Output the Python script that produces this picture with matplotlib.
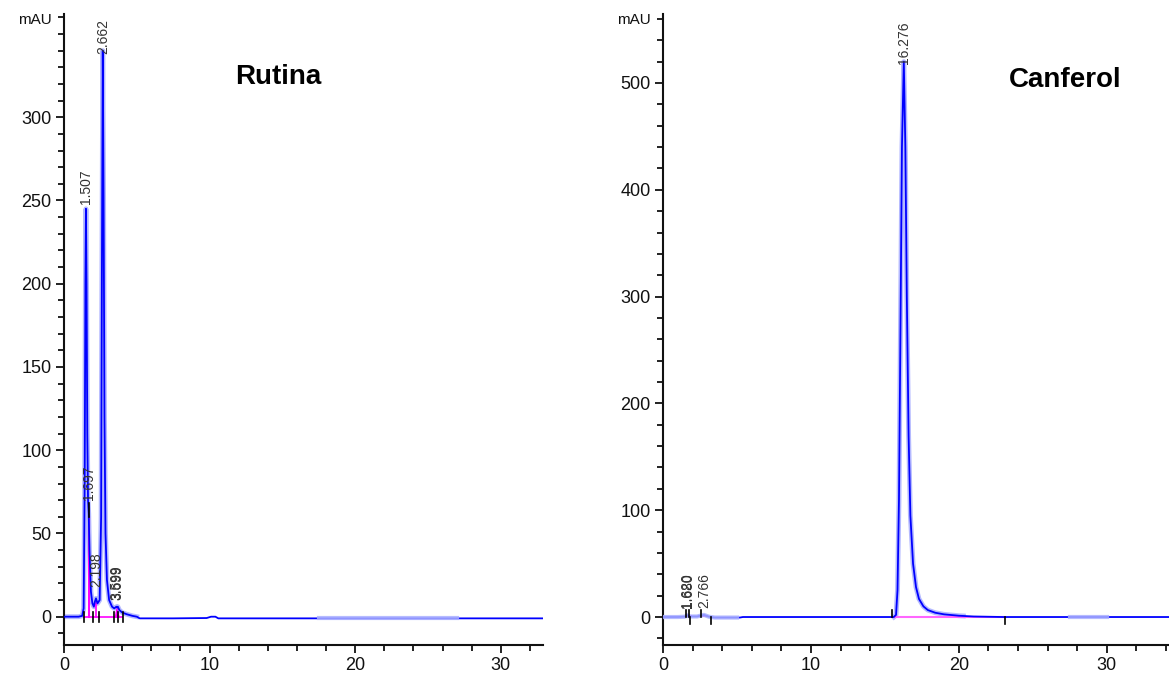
import numpy as np
import matplotlib
matplotlib.use('Agg')
import matplotlib.pyplot as plt
from matplotlib.ticker import MultipleLocator, FixedLocator

plt.rcParams['font.family'] = ['Liberation Sans', 'DejaVu Sans']

# ---- Rutina chromatogram (min, mAU)
rut_t = [0, 1.0, 1.25, 1.35, 1.42, 1.47, 1.507, 1.55, 1.6, 1.65, 1.697, 1.75, 1.85,
         1.95, 2.05, 2.12, 2.198, 2.3, 2.45, 2.55, 2.6, 2.662, 2.72, 2.78, 2.85,
         2.95, 3.1, 3.3, 3.45, 3.599, 3.65, 3.699, 3.8, 4.0, 4.3, 4.7, 5.0, 5.2,
         7.5, 9.8, 10.1, 10.4, 10.6, 17.5, 27.0, 33.0]
rut_y = [0, 0, 0.5, 5, 80, 200, 245, 200, 110, 70, 62, 40, 15,
         8, 6, 9, 11, 8, 10, 60, 200, 340, 250, 120, 50,
         22, 10, 6, 5, 6, 5.5, 6, 4, 2.5, 1.5, 0.5, 0, -1,
         -1, -0.8, 0, 0, -1, -1, -1, -1]
rut_peaks = ['1.507', '1.697', '2.198', '2.662', '3.599', '3.699']
rut_peak_t = [1.507, 1.697, 2.198, 2.662, 3.599, 3.699]
rut_label_y = [248, 70, 18, 338, 10, 10]
rut_halo_under = [(0.0, 5.0)]
rut_halo_over = [(17.5, 27.0)]
rut_marks = [1.37, 2.0, 2.4, 3.44, 3.7, 4.05]
rut_yticks = [0, 50, 100, 150, 200, 250, 300]

# ---- Canferol chromatogram
can_t = [0, 1.0, 1.5, 1.62, 1.68, 1.8, 2.3, 2.766, 3.1, 3.5, 5.0, 5.2, 5.4,
         15.6, 15.75, 15.85, 15.95, 16.05, 16.15, 16.276, 16.38, 16.48, 16.6,
         16.72, 16.9, 17.1, 17.3, 17.6, 17.9, 18.4, 19.0, 20.0, 20.3, 21.0, 23.0,
         27.5, 30.0, 34.5]
can_y = [0, 0, 0.3, 1.5, 1.5, 0.5, 0.5, 2, 0.3, -0.5, -0.5, -0.5, 0,
         0, 2, 25, 110, 270, 440, 520, 440, 300, 170,
         95, 50, 28, 17, 10, 6.5, 4, 2.5, 1.2, 1.0, 0.5, 0,
         0, 0, 0]
can_peaks = ['1.620', '1.680', '2.766', '16.276']
can_peak_t = [1.62, 1.68, 2.766, 16.276]
can_label_y = [8, 8, 8, 518]
can_halo_under = [(15.4, 20.3)]
can_halo_over = [(0.0, 5.0), (27.5, 30.0)]
can_marks_up = [1.55, 1.75, 2.55, 15.5]
can_marks_dn = [1.85, 3.25, 23.1]
can_yticks = [0, 100, 200, 300, 400, 500]

fig = plt.figure(figsize=(11.69, 6.75), dpi=100)
ax1 = fig.add_axes([64 / 1169, 30 / 675, 479 / 1169, 631 / 675])
ax2 = fig.add_axes([663 / 1169, 30 / 675, 506 / 1169, 631 / 675])


def draw(ax, t, y, h_under, h_over, names, pt, ly, yticks, ymin_, xmax, ylim):
    t = np.array(t)
    y = np.array(y, dtype=float)
    for a, b in h_under:
        yy = np.where((t >= a) & (t <= b), y, np.nan)
        ax.plot(t, yy, color='#b4b9ff', lw=3.5, zorder=2)
    ax.plot(t, y, color='#0000ff', lw=1.3, zorder=3)
    for a, b in h_over:
        yy = np.where((t >= a) & (t <= b), y, np.nan)
        ax.plot(t, yy, color='#a9afff', lw=3.0, alpha=0.85, zorder=4)
    for n, x0, y0 in zip(names, pt, ly):
        ax.text(x0, y0, n, rotation=90, ha='center', va='bottom',
                fontsize=10, color='#333333', zorder=6)
    ax.set_xlim(0, xmax)
    ax.set_ylim(*ylim)
    for s in ['top', 'right']:
        ax.spines[s].set_visible(False)
    for s in ['left', 'bottom']:
        ax.spines[s].set_linewidth(1.5)
        ax.spines[s].set_color('#111111')
    ax.xaxis.set_major_locator(MultipleLocator(10))
    ax.xaxis.set_minor_locator(MultipleLocator(2))
    ax.yaxis.set_major_locator(FixedLocator(yticks))
    ax.yaxis.set_minor_locator(MultipleLocator(ymin_))
    ax.tick_params(which='major', length=6, width=1.3, labelsize=13,
                   colors='#111111', pad=3)
    ax.tick_params(which='minor', length=4.5, width=1.3, colors='#111111')
    ax.text(-0.025, 0.99, 'mAU', transform=ax.transAxes, ha='right',
            va='center', fontsize=11, color='#111111')


draw(ax1, rut_t, rut_y, rut_halo_under, rut_halo_over, rut_peaks, rut_peak_t,
     rut_label_y, rut_yticks, 10, 32.9, (-17, 362))
draw(ax2, can_t, can_y, can_halo_under, can_halo_over, can_peaks, can_peak_t,
     can_label_y, can_yticks, 20, 34.2, (-26.2, 564.6))

# integration baselines / drop lines
ax1.plot([1.4, 4.0], [0, 0], color='#ff00ff', lw=1.2, zorder=2)
ax1.plot([1.72, 1.72], [0, 60], color='#ff00ff', lw=1.5, zorder=2)
ax1.plot([2.2, 2.2], [0, 8], color='#ff00ff', lw=1.2, zorder=2)
ax1.fill_between([3.5, 3.6, 3.75], [0, 5, 0], color='#ff00ff', zorder=2)
for m in rut_marks:
    ax1.plot([m, m], [-3, 3], color='black', lw=1.2, zorder=5)
ax1.plot([1.69, 1.69], [60, 68], color='black', lw=1.2, zorder=5)

ax2.plot([15.6, 23.1], [0.3, 0.3], color='#ff66ff', lw=1.5, zorder=2)
ax2.plot([1.6, 1.9], [0.5, 0.5], color='#ff00ff', lw=1.2, zorder=2)
ax2.plot([2.6, 3.0], [0.5, 0.5], color='#ff00ff', lw=1.2, zorder=2)
for m in can_marks_up:
    ax2.plot([m, m], [0, 7], color='black', lw=1.2, zorder=5)
for m in can_marks_dn:
    ax2.plot([m, m], [-7, 0], color='black', lw=1.2, zorder=5)

ax1.text(14.7, 324, 'Rutina', ha='center', va='center', fontsize=20,
         fontweight='bold', color='black')
ax2.text(27.2, 503, 'Canferol', ha='center', va='center', fontsize=20,
         fontweight='bold', color='black')

fig.savefig('out.png', dpi=100)
plt.close(fig)
